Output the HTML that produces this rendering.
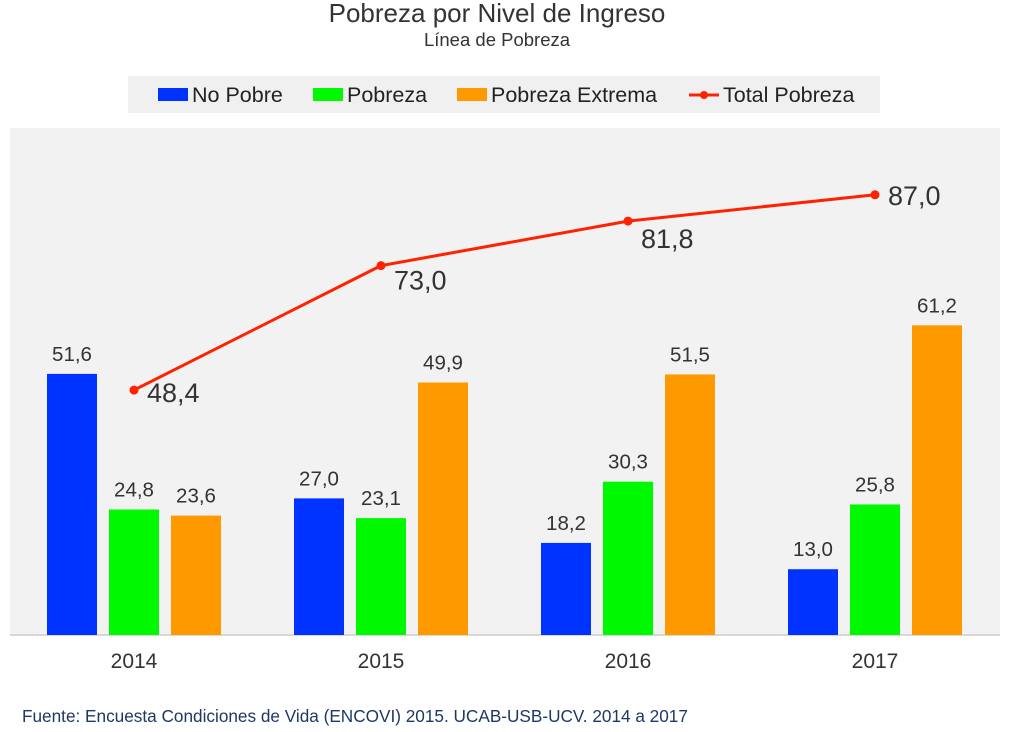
<!DOCTYPE html>
<html><head><meta charset="utf-8"><style>
body{margin:0;background:#fff;font-family:"Liberation Sans",sans-serif;}
</style></head><body>
<svg width="1031" height="727" xmlns="http://www.w3.org/2000/svg" font-family="Liberation Sans, sans-serif">
<text x="497" y="22" text-anchor="middle" font-size="26" fill="#333">Pobreza por Nivel de Ingreso</text>
<text x="497" y="46" text-anchor="middle" font-size="18.5" fill="#333">Línea de Pobreza</text>
<g>
<rect x="128" y="76" width="752" height="37" fill="#f0f0f0"/>
<g><rect x="158" y="88" width="30" height="13" fill="#0033ff"/><text x="192" y="102" font-size="21.5" fill="#222">No Pobre</text></g>
<g><rect x="313" y="88" width="30" height="13" fill="#00f800"/><text x="347" y="102" font-size="21.5" fill="#222">Pobreza</text></g>
<g><rect x="457" y="88" width="30" height="13" fill="#ff9900"/><text x="491" y="102" font-size="21.5" fill="#222">Pobreza Extrema</text></g>
<g><line x1="689" y1="95" x2="719" y2="95" stroke="#ff2200" stroke-width="3"/><circle cx="704" cy="95" r="4" fill="#ff2200"/><text x="723" y="102" font-size="21.5" fill="#222">Total Pobreza</text></g>
</g>
<rect x="10" y="128" width="990" height="507" fill="#f2f2f2"/>
<line x1="10" y1="635" x2="1000" y2="635" stroke="#ccc" stroke-width="1.5"/>
<g id="marks"></g>
<text x="22" y="722" font-size="17.2" fill="#1f3864">Fuente: Encuesta Condiciones de Vida (ENCOVI) 2015. UCAB-USB-UCV. 2014 a 2017</text>
</svg>
<script>
const categories=["2014","2015","2016","2017"];
const noPobre=[51.6,27.0,18.2,13.0];
const pobreza=[24.8,23.1,30.3,25.8];
const pobrezaExtrema=[23.6,49.9,51.5,61.2];
const totalPobreza=[48.4,73.0,81.8,87.0];
const NS="http://www.w3.org/2000/svg";
const g=document.getElementById('marks');
const base=635, k=5.06, x0=134, step=247, bw=50;
const labelDy=[12,24,27,10];
const y=v=>base-v*k;
const xc=i=>x0+i*step;
const fmt=v=>v.toFixed(1).replace('.',',');
function mk(t,a){const e=document.createElementNS(NS,t);for(const p in a)e.setAttribute(p,a[p]);g.appendChild(e);return e;}
const series=[[noPobre,"#0033ff",-62,"bar-no-pobre"],[pobreza,"#00f800",0,"bar-pobreza"],[pobrezaExtrema,"#ff9900",62,"bar-pobreza-extrema"]];
series.forEach(([arr,col,off,nm])=>{
 arr.forEach((v,i)=>{
  const r=mk('rect',{x:xc(i)+off-bw/2,y:y(v),width:bw,height:v*k,fill:col});
  
  
  const t=mk('text',{x:xc(i)+off,y:y(v)-13,'text-anchor':'middle','font-size':20.5,fill:'#333'});
  t.textContent=fmt(v);
  
  
 });
});
categories.forEach((c,i)=>{
 const t=mk('text',{x:xc(i),y:668,'text-anchor':'middle','font-size':21,fill:'#333'});
 t.textContent=c;
 
 
});
const pl=mk('polyline',{points:totalPobreza.map((v,i)=>xc(i)+','+y(v)).join(' '),fill:'none',stroke:'#ff2200','stroke-width':3});


totalPobreza.forEach((v,i)=>{
 const c=mk('circle',{cx:xc(i),cy:y(v),r:4.5,fill:'#ff2200'});
 
 
 const t=mk('text',{x:xc(i)+13,y:y(v)+labelDy[i],'font-size':27,fill:'#333'});
 t.textContent=fmt(v);
 
 
});
</script>
</body></html>
